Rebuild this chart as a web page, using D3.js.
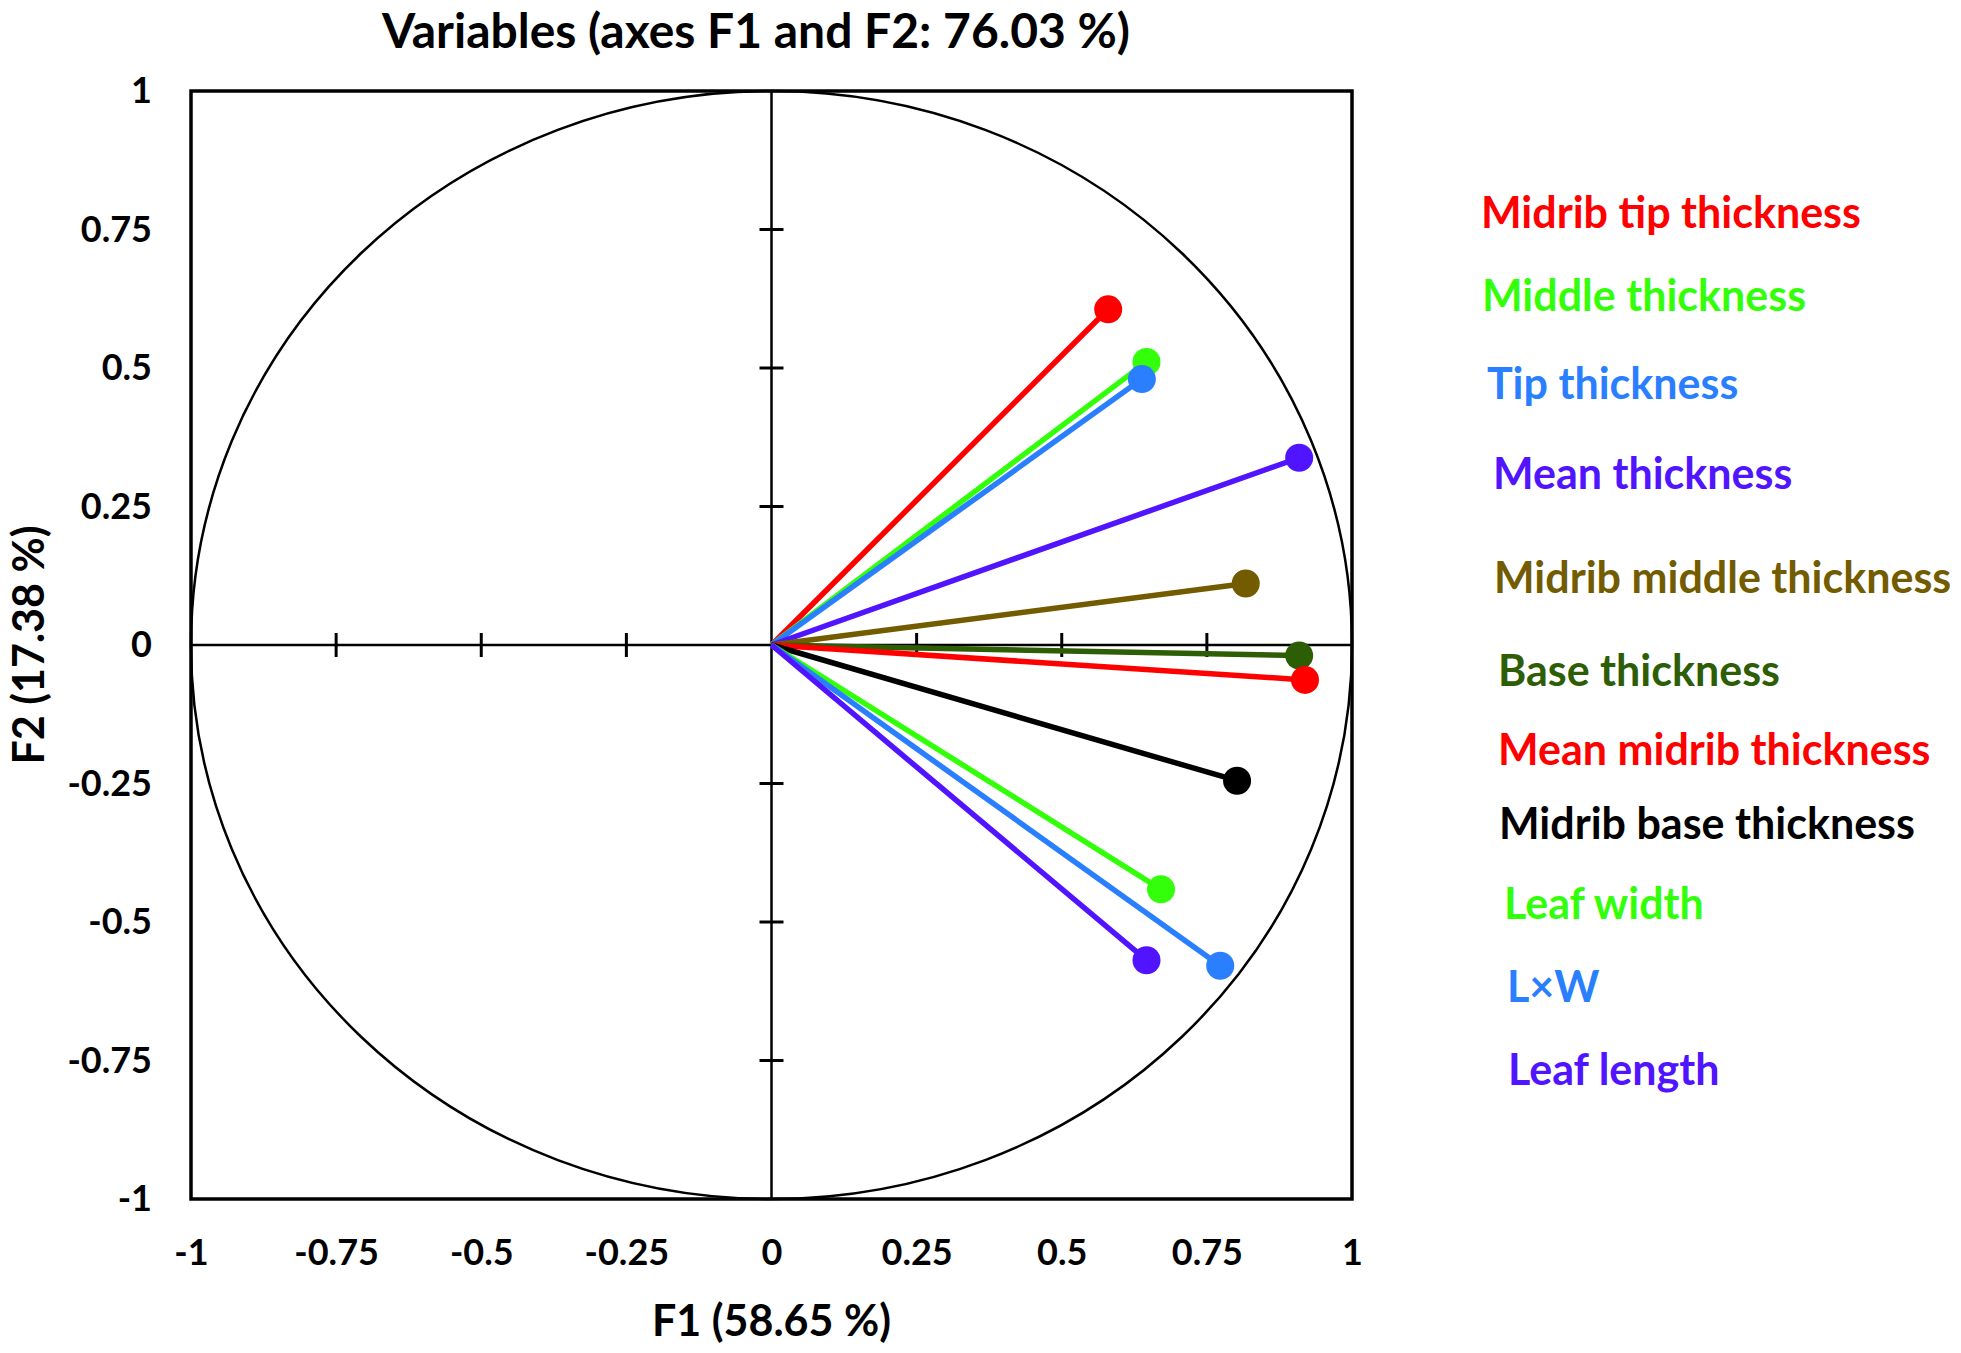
<!DOCTYPE html>
<html>
<head>
<meta charset="utf-8">
<script src="https://cdn.jsdelivr.net/npm/d3@7"></script>
<style>
  body { margin: 0; background: #fff; }
  text { font-family: Lato, "Open Sans", sans-serif; font-weight: 700; }
</style>
</head>
<body>
<svg id="chart" width="1961" height="1353"></svg>
<script>
// Variable names, in legend order
var names = ["Midrib tip thickness", "Middle thickness", "Tip thickness", "Mean thickness",
    "Midrib middle thickness", "Base thickness", "Mean midrib thickness", "Midrib base thickness",
    "Leaf width", "L\u00d7W", "Leaf length"];

// Correlations with F1 and F2
var f1 = [0.580, 0.646, 0.638, 0.909, 0.817, 0.909, 0.919, 0.802, 0.671, 0.773, 0.646];
var f2 = [0.606, 0.511, 0.480, 0.338, 0.111, -0.019, -0.063, -0.245, -0.441, -0.579, -0.569];

var colors = ["#ff0000", "#33ff0a", "#2a7fff", "#5014ff", "#735b00", "#2d5d05",
    "#ff0000", "#000000", "#33ff0a", "#2a7fff", "#5014ff"];

var tickVals = [-1, -0.75, -0.5, -0.25, 0, 0.25, 0.5, 0.75, 1];

// legend text placement (left x, baseline y)
var legendX = [1481, 1482, 1487, 1493, 1494, 1498, 1498, 1499, 1504, 1507, 1508];
var legendY = [228, 311, 399, 489, 593, 686, 765, 839, 919, 1002, 1085];

var margin = {top: 91, left: 191};
var width = 1161, height = 1108;

var svg = d3.select("#chart");
var g = svg.append("g").attr("transform", "translate(" + margin.left + "," + margin.top + ")");

var x = d3.scaleLinear().domain([-1, 1]).range([0, width]);
var y = d3.scaleLinear().domain([-1, 1]).range([height, 0]);

var data = names.map(function(n, i) {
    return {name: n, f1: f1[i], f2: f2[i], color: colors[i]};
});

// tick labels on the left and bottom of the frame
var yAxis = d3.axisLeft(y).tickValues(tickVals).tickSize(0).tickPadding(39)
    .tickFormat(function(d) { return String(d); });
var xAxis = d3.axisBottom(x).tickValues(tickVals).tickSize(0).tickPadding(40)
    .tickFormat(function(d) { return String(d); });

g.append("g").call(yAxis)
    .call(function(s) { s.select(".domain").remove(); })
    .selectAll("text").attr("font-size", 36).attr("fill", "#000")
    .style("font-family", "Lato, sans-serif").style("font-weight", 700);

g.append("g").attr("transform", "translate(0," + height + ")").call(xAxis)
    .call(function(s) { s.select(".domain").remove(); })
    .selectAll("text").attr("font-size", 36).attr("fill", "#000")
    .style("font-family", "Lato, sans-serif").style("font-weight", 700);

// correlation circle
g.append("ellipse")
    .attr("cx", x(0)).attr("cy", y(0))
    .attr("rx", x(1) - x(0)).attr("ry", y(-1) - y(0))
    .attr("fill", "none").attr("stroke", "#000").attr("stroke-width", 2.5);

// center axes
g.append("line").attr("x1", x(-1)).attr("x2", x(1)).attr("y1", y(0)).attr("y2", y(0))
    .attr("stroke", "#000").attr("stroke-width", 2.5);
g.append("line").attr("x1", x(0)).attr("x2", x(0)).attr("y1", y(-1)).attr("y2", y(1))
    .attr("stroke", "#000").attr("stroke-width", 2.5);

var inner = tickVals.filter(function(d) { return d !== 0 && Math.abs(d) !== 1; });

g.selectAll(".xtick").data(inner).enter().append("line")
    .attr("x1", function(d) { return x(d); }).attr("x2", function(d) { return x(d); })
    .attr("y1", y(0) - 12).attr("y2", y(0) + 12)
    .attr("stroke", "#000").attr("stroke-width", 3);

g.selectAll(".ytick").data(inner).enter().append("line")
    .attr("y1", function(d) { return y(d); }).attr("y2", function(d) { return y(d); })
    .attr("x1", x(0) - 12).attr("x2", x(0) + 12)
    .attr("stroke", "#000").attr("stroke-width", 3);

// variable vectors
var vec = g.selectAll(".vec").data(data).enter().append("g");
vec.append("line")
    .attr("x1", x(0)).attr("y1", y(0))
    .attr("x2", function(d) { return x(d.f1); })
    .attr("y2", function(d) { return y(d.f2); })
    .attr("stroke", function(d) { return d.color; })
    .attr("stroke-width", 5.5);
vec.append("circle")
    .attr("cx", function(d) { return x(d.f1); })
    .attr("cy", function(d) { return y(d.f2); })
    .attr("r", 14)
    .attr("fill", function(d) { return d.color; });

// frame
g.append("rect").attr("width", width).attr("height", height)
    .attr("fill", "none").attr("stroke", "#000").attr("stroke-width", 3.5);

// titles
svg.append("text").attr("x", 756).attr("y", 48).attr("text-anchor", "middle")
    .attr("font-size", 48).text("Variables (axes F1 and F2: 76.03 %)");

svg.append("text").attr("x", margin.left + x(0)).attr("y", 1336).attr("text-anchor", "middle")
    .attr("font-size", 43).text("F1 (58.65 %)");

svg.append("text")
    .attr("transform", "translate(44," + (margin.top + y(0)) + ") rotate(-90)")
    .attr("text-anchor", "middle")
    .attr("font-size", 43).text("F2 (17.38 %)");

// legend
svg.selectAll(".legend").data(data).enter().append("text")
    .attr("x", function(d, i) { return legendX[i]; })
    .attr("y", function(d, i) { return legendY[i]; })
    .attr("font-size", 43)
    .attr("fill", function(d) { return d.color; })
    .text(function(d) { return d.name; });
</script>
</body>
</html>
